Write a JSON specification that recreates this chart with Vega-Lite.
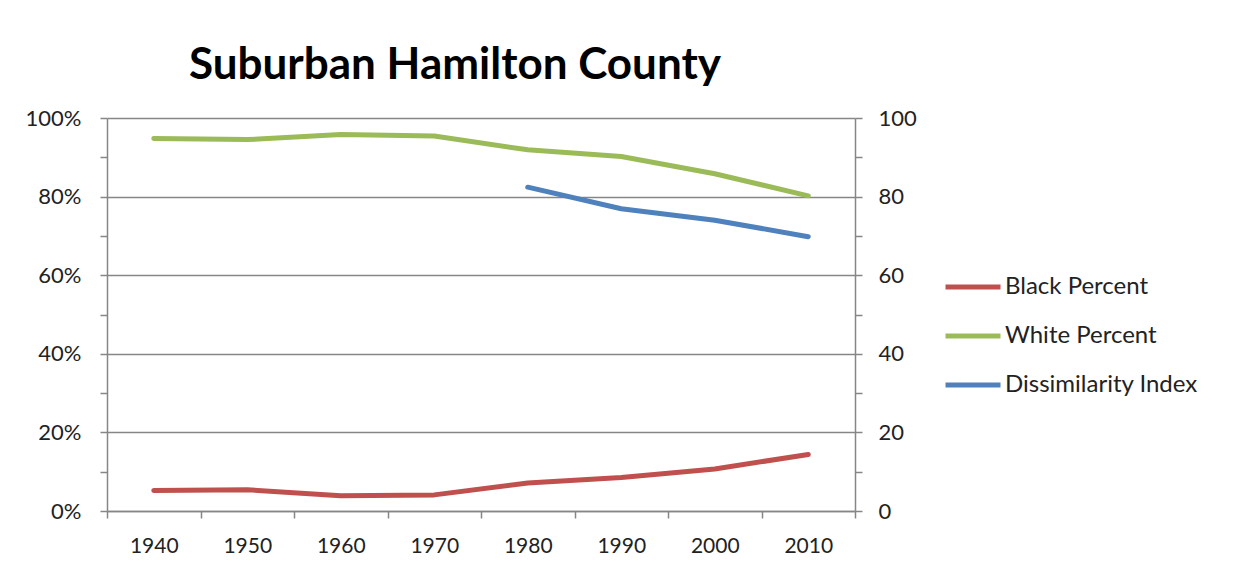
{
  "$schema": "https://vega.github.io/schema/vega-lite/v6.json",
  "autosize": "none",
  "width": 748,
  "height": 393,
  "padding": {"left": 107, "top": 118, "right": 379, "bottom": 72},
  "background": "white",
  "title": {"text": "Suburban Hamilton County", "font": "Lato", "fontSize": 44, "fontWeight": "bold", "color": "black", "anchor": "middle", "frame": "group", "dx": -26, "offset": -16, "baseline": "alphabetic"},
  "data": {"values": [
    {"year": "1940", "series": "Black Percent", "value": 5.2},
    {"year": "1950", "series": "Black Percent", "value": 5.4},
    {"year": "1960", "series": "Black Percent", "value": 3.9},
    {"year": "1970", "series": "Black Percent", "value": 4.1},
    {"year": "1980", "series": "Black Percent", "value": 7.1},
    {"year": "1990", "series": "Black Percent", "value": 8.5},
    {"year": "2000", "series": "Black Percent", "value": 10.7},
    {"year": "2010", "series": "Black Percent", "value": 14.4},
    {"year": "1940", "series": "White Percent", "value": 94.8},
    {"year": "1950", "series": "White Percent", "value": 94.5},
    {"year": "1960", "series": "White Percent", "value": 95.8},
    {"year": "1970", "series": "White Percent", "value": 95.4},
    {"year": "1980", "series": "White Percent", "value": 91.9},
    {"year": "1990", "series": "White Percent", "value": 90.2},
    {"year": "2000", "series": "White Percent", "value": 85.8},
    {"year": "2010", "series": "White Percent", "value": 80.2},
    {"year": "1980", "series": "Dissimilarity Index", "value": 82.4},
    {"year": "1990", "series": "Dissimilarity Index", "value": 76.9},
    {"year": "2000", "series": "Dissimilarity Index", "value": 74.0},
    {"year": "2010", "series": "Dissimilarity Index", "value": 69.8}
  ]},
  "encoding": {
    "x": {"field": "year", "type": "ordinal", "scale": {"type": "band", "paddingInner": 0, "paddingOuter": 0},
      "axis": {"title": null, "labelAngle": 0, "labelFont": "Lato", "labelFontSize": 21, "labelColor": "#222222", "labelPadding": 17, "tickBand": "extent", "tickSize": 7, "tickColor": "#868686", "tickWidth": 1.5, "domainColor": "#868686", "domainWidth": 1.5, "grid": false}},
    "color": {"field": "series", "type": "nominal",
      "scale": {"domain": ["Black Percent", "White Percent", "Dissimilarity Index"], "range": ["#C0504D", "#9BBB59", "#4F81BD"]},
      "legend": {"title": null, "orient": "none", "legendX": 836, "legendY": 139, "symbolType": "stroke", "symbolSize": 3025, "symbolStrokeWidth": 5, "labelFont": "Lato", "labelFontSize": 24, "labelColor": "#222222", "labelOffset": 2, "labelLimit": 0, "rowPadding": 7}}
  },
  "layer": [
    {
      "transform": [{"filter": "datum.series !== 'Dissimilarity Index'"}],
      "mark": {"type": "line", "strokeWidth": 5, "strokeCap": "round", "strokeJoin": "round"},
      "encoding": {
        "y": {"field": "value", "type": "quantitative", "scale": {"domain": [0, 100], "nice": false},
          "axis": {"title": null, "orient": "left", "values": [0, 10, 20, 30, 40, 50, 60, 70, 80, 90, 100],
            "labelExpr": "datum.value % 20 === 0 ? datum.value + '%' : ''",
            "labelFont": "Lato", "labelFontSize": 22, "labelColor": "#222222", "labelPadding": 19,
            "tickSize": 7, "tickColor": "#868686", "tickWidth": 1.5, "domainColor": "#868686", "domainWidth": 1.5,
            "grid": true, "gridColor": "#868686", "gridWidth": 1.5,
            "gridOpacity": {"condition": {"test": "datum.value % 20 !== 0", "value": 0}, "value": 1}}},
        "detail": {"field": "series"}
      }
    },
    {
      "transform": [{"filter": "datum.series === 'Dissimilarity Index'"}],
      "mark": {"type": "line", "strokeWidth": 5, "strokeCap": "round", "strokeJoin": "round"},
      "encoding": {
        "y": {"field": "value", "type": "quantitative", "scale": {"domain": [0, 100], "nice": false},
          "axis": {"title": null, "orient": "right", "values": [0, 10, 20, 30, 40, 50, 60, 70, 80, 90, 100],
            "labelExpr": "datum.value % 20 === 0 ? datum.value : ''",
            "labelFont": "Lato", "labelFontSize": 22, "labelColor": "#222222", "labelPadding": 16,
            "tickSize": 7, "tickColor": "#868686", "tickWidth": 1.5, "domainColor": "#868686", "domainWidth": 1.5,
            "grid": false}}
      }
    }
  ],
  "resolve": {"scale": {"y": "independent"}},
  "config": {"view": {"stroke": null}}
}
